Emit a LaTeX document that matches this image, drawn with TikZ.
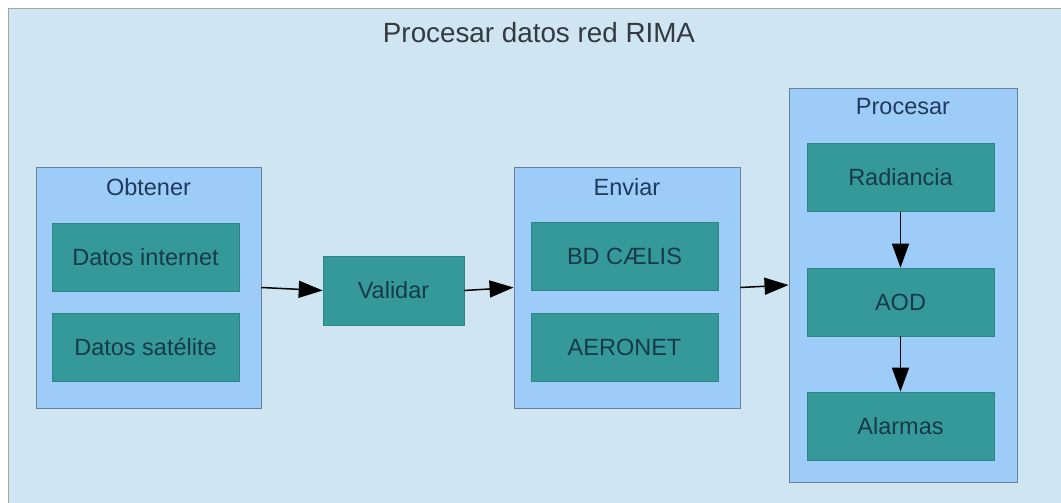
\documentclass[tikz,border=0pt]{standalone}
\usepackage{fontspec}
\setmainfont{Liberation Sans}
\usetikzlibrary{arrows.meta}
\definecolor{bgblue}{HTML}{D0E5F2}
\definecolor{contblue}{HTML}{9DCCF8}
\definecolor{contedge}{HTML}{6A819C}
\definecolor{teal1}{HTML}{35999A}
\definecolor{tealedge}{HTML}{2E8585}
\definecolor{boxtext}{HTML}{163A46}
\definecolor{conttext}{HTML}{1F3A5C}
\definecolor{titletext}{HTML}{333A40}
\tikzset{
  container/.style={draw=contedge, fill=contblue, line width=0.9pt, minimum width=#1, inner sep=0pt},
  procbox/.style={draw=tealedge, fill=teal1, line width=0.6pt, minimum width=187pt, minimum height=68pt, inner sep=0pt,
    text=boxtext, font=\fontsize{23.5}{26}\selectfont},
  contlabel/.style={text=conttext, font=\fontsize{23.5}{26}\selectfont, inner sep=0pt},
  flow/.style={line width=1.5pt, draw=black, -{Triangle[length=24pt,width=17pt]}}
}
\begin{document}
\begin{tikzpicture}[x=1pt,y=-1pt]
\useasboundingbox (0,0) rectangle (1061,503);
\fill[white] (0,0) rectangle (1061,503);
\draw[fill=bgblue, draw=gray!70, line width=1pt] (8,9) rectangle (1070,515);
\node[text=titletext, font=\fontsize{27.8}{30}\selectfont, inner sep=0pt] (title) at (539,33) {Procesar datos red RIMA};

% containers
\node[container=225pt, minimum height=241pt] (obt) at (148.5,287.5) {};
\node[container=226pt, minimum height=241pt] (env) at (627,287.5) {};
\node[container=228pt, minimum height=394pt] (pro) at (903,285) {};

\node[contlabel] (obtl) at (148.5,187) {Obtener};
\node[contlabel] (envl) at (627,187) {Enviar};
\node[contlabel] (prol) at (903,107) {Procesar};

% boxes
\node[procbox] (dint) at (145.5,257) {Datos internet};
\node[procbox] (dsat) at (145.5,347) {Datos satélite};
\node[procbox, minimum width=141pt, minimum height=69pt] (val) at (393.5,290.5) {Validar};
\node[procbox] (bd) at (624.5,256.5) {BD CÆLIS};
\node[procbox] (aer) at (624.5,347) {AERONET};
\node[procbox] (rad) at (900.5,177.5) {Radiancia};
\node[procbox] (aod) at (900.5,302) {AOD};
\node[procbox] (ala) at (900.5,426) {Alarmas};

% connectors
\draw[flow] (obt.east) -- (val.west);
\draw[flow] (val.east) -- (env.west);
\draw[flow] (env.east) -- (pro.west);
\draw[flow] (rad.south) -- (aod.north);
\draw[flow] (aod.south) -- (ala.north);
\end{tikzpicture}
\end{document}
